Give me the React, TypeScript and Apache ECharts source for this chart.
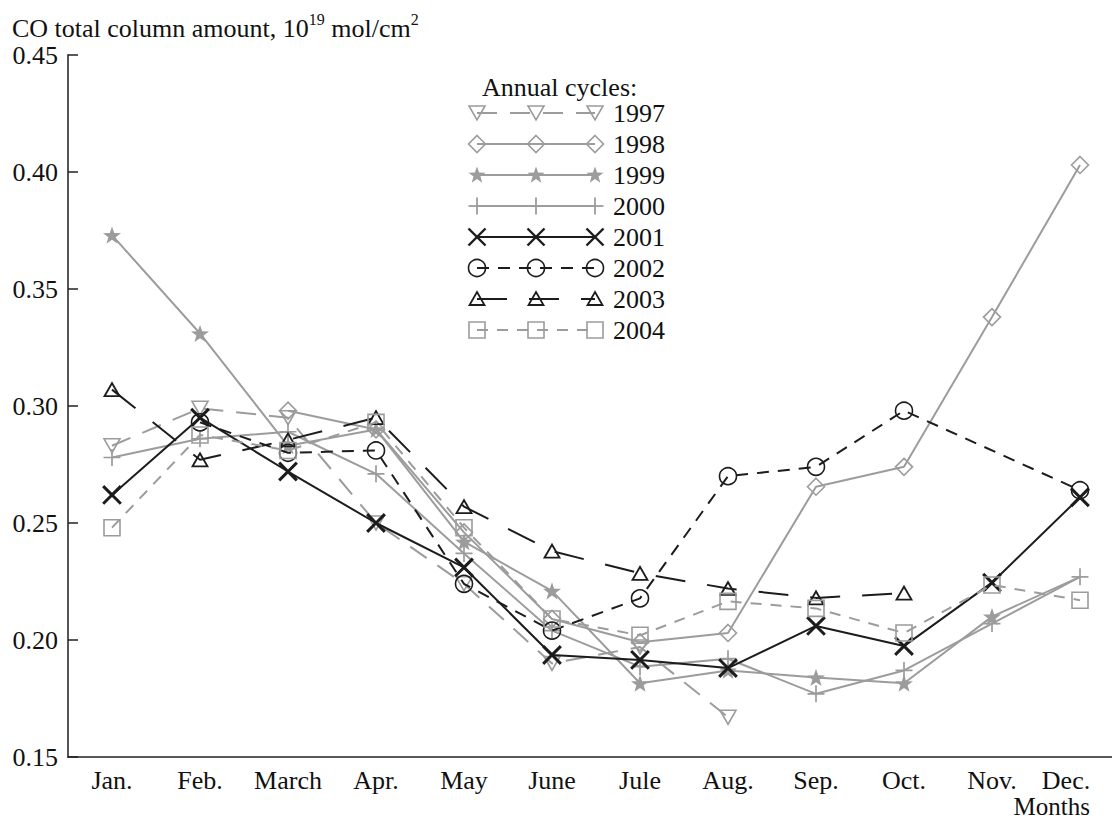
import React, { useEffect, useRef } from "react";
import * as echarts from "echarts";

// ---------- data ----------
const months = ["Jan.", "Feb.", "March", "Apr.", "May", "June", "Jule", "Aug.", "Sep.", "Oct.", "Nov.", "Dec."];
const yTicks = [0.15, 0.45, 0.05]; // min, max, step

const v1997 = [0.283, 0.299, 0.295, 0.25, 0.224, 0.19, 0.197, 0.167, null, null, null, null];
const v1998 = [null, null, 0.298, 0.29, 0.246, 0.209, 0.199, 0.203, 0.2655, 0.274, 0.338, 0.403];
const v1999 = [0.373, 0.331, 0.283, 0.29, 0.242, 0.221, 0.1815, 0.187, 0.184, 0.1815, 0.21, 0.227];
const v2000 = [0.278, 0.286, 0.289, 0.271, 0.237, 0.204, 0.1886, 0.192, 0.177, 0.187, 0.207, 0.227];
const v2001 = [0.262, 0.295, 0.272, 0.25, 0.231, 0.1936, 0.1915, 0.188, 0.206, 0.1974, 0.2245, 0.261];
const v2002 = [null, 0.293, 0.28, 0.281, 0.224, 0.204, 0.2178, 0.27, 0.274, 0.298, null, 0.264];
const v2003 = [0.307, 0.277, 0.2855, 0.295, 0.257, 0.238, 0.2285, 0.222, 0.218, 0.22, null, null];
const v2004 = [0.248, 0.2876, 0.281, 0.293, 0.248, 0.209, 0.202, 0.2165, 0.2135, 0.203, 0.2235, 0.217];

const years = ["1997", "1998", "1999", "2000", "2001", "2002", "2003", "2004"];
const values = [v1997, v1998, v1999, v2000, v2001, v2002, v2003, v2004];

// ---------- styles ----------
const GRAY = "#9c9c9c";
const BLACK = "#1c1c1c";
const FONT = "'Liberation Serif', 'DejaVu Serif', serif";

const PLUS_PATH = "path://M9 0H11V9H20V11H11V20H9V11H0V9H9Z";
const CROSS_PATH = "path://M8.8 0H11.2V8.8H20V11.2H11.2V20H8.8V11.2H0V8.8H8.8Z";
const STAR_PTS = [
  [10, 0], [12.35, 6.76], [19.51, 6.91], [13.8, 11.24], [15.88, 18.09],
  [10, 14], [4.12, 18.09], [6.2, 11.24], [0.49, 6.91], [7.65, 6.76],
];
const STAR_PATH = "path://M" + STAR_PTS.map((p) => p[0] + " " + p[1]).join("L") + "Z";

type Sty = { color: string; dash: number[] | null; kind: string };
const styles: Sty[] = [
  { color: GRAY, dash: [20, 13], kind: "triDown" },
  { color: GRAY, dash: null, kind: "diamond" },
  { color: GRAY, dash: null, kind: "star" },
  { color: GRAY, dash: null, kind: "plus" },
  { color: BLACK, dash: null, kind: "cross" },
  { color: BLACK, dash: [12, 9], kind: "circle" },
  { color: BLACK, dash: [30, 22], kind: "tri" },
  { color: GRAY, dash: [11, 9], kind: "rect" },
];

function symbolOf(kind: string) {
  switch (kind) {
    case "triDown":
      return { symbol: "triangle", symbolSize: [16, 14], symbolRotate: 180, filled: false };
    case "diamond":
      return { symbol: "diamond", symbolSize: [17, 17], filled: false };
    case "star":
      return { symbol: STAR_PATH, symbolSize: 18, filled: true };
    case "plus":
      return { symbol: PLUS_PATH, symbolSize: 17, filled: true };
    case "cross":
      return { symbol: CROSS_PATH, symbolSize: 25, symbolRotate: 45, filled: true };
    case "circle":
      return { symbol: "circle", symbolSize: 17, filled: false };
    case "tri":
      return { symbol: "triangle", symbolSize: [15, 13], filled: false };
    default:
      return { symbol: "rect", symbolSize: 16, filled: false };
  }
}

function markerEls(kind: string, cx: number, cy: number, color: string): any[] {
  const st = { fill: "none", stroke: color, lineWidth: 1.6 };
  switch (kind) {
    case "circle":
      return [{ type: "circle", shape: { cx, cy, r: 8.5 }, style: st }];
    case "rect":
      return [{ type: "rect", shape: { x: cx - 8, y: cy - 8, width: 16, height: 16 }, style: st }];
    case "tri":
      return [{ type: "polygon", shape: { points: [[cx, cy - 7], [cx + 7.5, cy + 6], [cx - 7.5, cy + 6]] }, style: { ...st, lineWidth: 1.8 } }];
    case "triDown":
      return [{ type: "polygon", shape: { points: [[cx - 8, cy - 7], [cx + 8, cy - 7], [cx, cy + 7]] }, style: st }];
    case "diamond":
      return [{ type: "polygon", shape: { points: [[cx, cy - 8.5], [cx + 8.5, cy], [cx, cy + 8.5], [cx - 8.5, cy]] }, style: st }];
    case "star":
      return [{ type: "polygon", shape: { points: STAR_PTS.map((p) => [cx + (p[0] - 10) * 0.9, cy + (p[1] - 9.5) * 0.9]) }, style: { fill: color } }];
    case "plus":
      return [
        { type: "line", shape: { x1: cx - 8.5, y1: cy, x2: cx + 8.5, y2: cy }, style: { stroke: color, lineWidth: 1.8 } },
        { type: "line", shape: { x1: cx, y1: cy - 8.5, x2: cx, y2: cy + 8.5 }, style: { stroke: color, lineWidth: 1.8 } },
      ];
    default:
      return [
        { type: "line", shape: { x1: cx - 8.5, y1: cy - 8.5, x2: cx + 8.5, y2: cy + 8.5 }, style: { stroke: color, lineWidth: 2.4 } },
        { type: "line", shape: { x1: cx - 8.5, y1: cy + 8.5, x2: cx + 8.5, y2: cy - 8.5 }, style: { stroke: color, lineWidth: 2.4 } },
      ];
  }
}

function buildLegend(): any[] {
  const els: any[] = [];
  els.push({
    type: "text", x: 482, y: 87,
    style: { text: "Annual cycles:", fontSize: 26, fontFamily: FONT, fill: "#111", verticalAlign: "middle" },
  });
  years.forEach((yr, i) => {
    const y = 113 + 31 * i;
    const s = styles[i];
    els.push({
      type: "line", shape: { x1: 477, y1: y, x2: 595, y2: y },
      style: { stroke: s.color, lineWidth: 2, lineDash: s.dash || undefined },
    });
    [477, 536, 595].forEach((cx) => els.push(...markerEls(s.kind, cx, y, s.color)));
    els.push({
      type: "text", x: 613, y,
      style: { text: yr, fontSize: 26, fontFamily: FONT, fill: "#111", verticalAlign: "middle" },
    });
  });
  return els;
}

function buildSeries(): any[] {
  return years.map((yr, i) => {
    const s = styles[i];
    const sym = symbolOf(s.kind);
    const data = values[i].map((v, j) =>
      yr === "1999" && j === 11 ? { value: v, symbol: "none" } : v
    );
    return {
      type: "line",
      name: yr,
      data,
      connectNulls: true,
      showAllSymbol: true,
      symbol: sym.symbol,
      symbolSize: sym.symbolSize,
      symbolRotate: (sym as any).symbolRotate || 0,
      symbolKeepAspect: true,
      z: 2 + i,
      lineStyle: { color: s.color, width: 2, type: s.dash ? s.dash : "solid" },
      itemStyle: sym.filled
        ? { color: s.color, borderWidth: 0 }
        : { color: "rgba(255,255,255,0)", borderColor: s.color, borderWidth: s.kind === "tri" ? 1.8 : 1.6 },
      emphasis: { disabled: true },
    };
  });
}

export default function App() {
  const ref = useRef<HTMLDivElement>(null);
  useEffect(() => {
    const chart = echarts.init(ref.current!, null, { renderer: "svg" });
    chart.setOption({
      animation: false,
      backgroundColor: "#ffffff",
      textStyle: { fontFamily: FONT },
      grid: { left: 68, top: 55, width: 1056, height: 702 },
      xAxis: {
        type: "category",
        data: months,
        boundaryGap: true,
        axisLine: { lineStyle: { color: "#222", width: 1.5 } },
        axisTick: { inside: true, length: 10, lineStyle: { color: "#222", width: 1.5 } },
        axisLabel: {
          interval: 0,
          margin: 10,
          fontSize: 26,
          lineHeight: 26,
          fontFamily: FONT,
          color: "#111",
          formatter: (v: string) => (v === "Dec." ? "{d|Dec.}" : v),
          rich: { d: { fontSize: 26, lineHeight: 26, fontFamily: FONT, color: "#111", padding: [0, 28, 0, 0] } },
        },
        splitLine: { show: false },
      },
      yAxis: {
        type: "value",
        min: yTicks[0],
        max: yTicks[1],
        interval: yTicks[2],
        axisLine: { show: true, lineStyle: { color: "#555", width: 2 } },
        axisTick: { show: true, inside: true, length: 10, lineStyle: { color: "#222", width: 1.5 } },
        axisLabel: {
          margin: 10,
          fontSize: 26,
          fontFamily: FONT,
          color: "#111",
          formatter: (v: number) => v.toFixed(2),
        },
        splitLine: { show: false },
      },
      graphic: [
        {
          type: "text", x: 12, y: 26,
          style: {
            text: "{a|CO total column amount, 10}{s|19}{a| mol/cm}{s|2}",
            verticalAlign: "middle",
            rich: {
              a: { fontSize: 26, fontFamily: FONT, fill: "#111", lineHeight: 30, verticalAlign: "bottom" },
              s: { fontSize: 16, fontFamily: FONT, fill: "#111", lineHeight: 30, verticalAlign: "top" },
            },
          },
        },
        {
          type: "text", x: 1090, y: 806,
          style: { text: "Months", fontSize: 25, lineHeight: 25, fontFamily: FONT, fill: "#111", align: "right", verticalAlign: "middle" },
        },
        ...buildLegend(),
      ],
      series: buildSeries(),
    });
    return () => chart.dispose();
  }, []);
  return (
    <div style={{ position: "absolute", left: 0, top: 0, width: 1112, height: 821, overflow: "hidden", background: "#fff" }}>
      <div ref={ref} style={{ width: 1160, height: 821 }} />
    </div>
  );
}
